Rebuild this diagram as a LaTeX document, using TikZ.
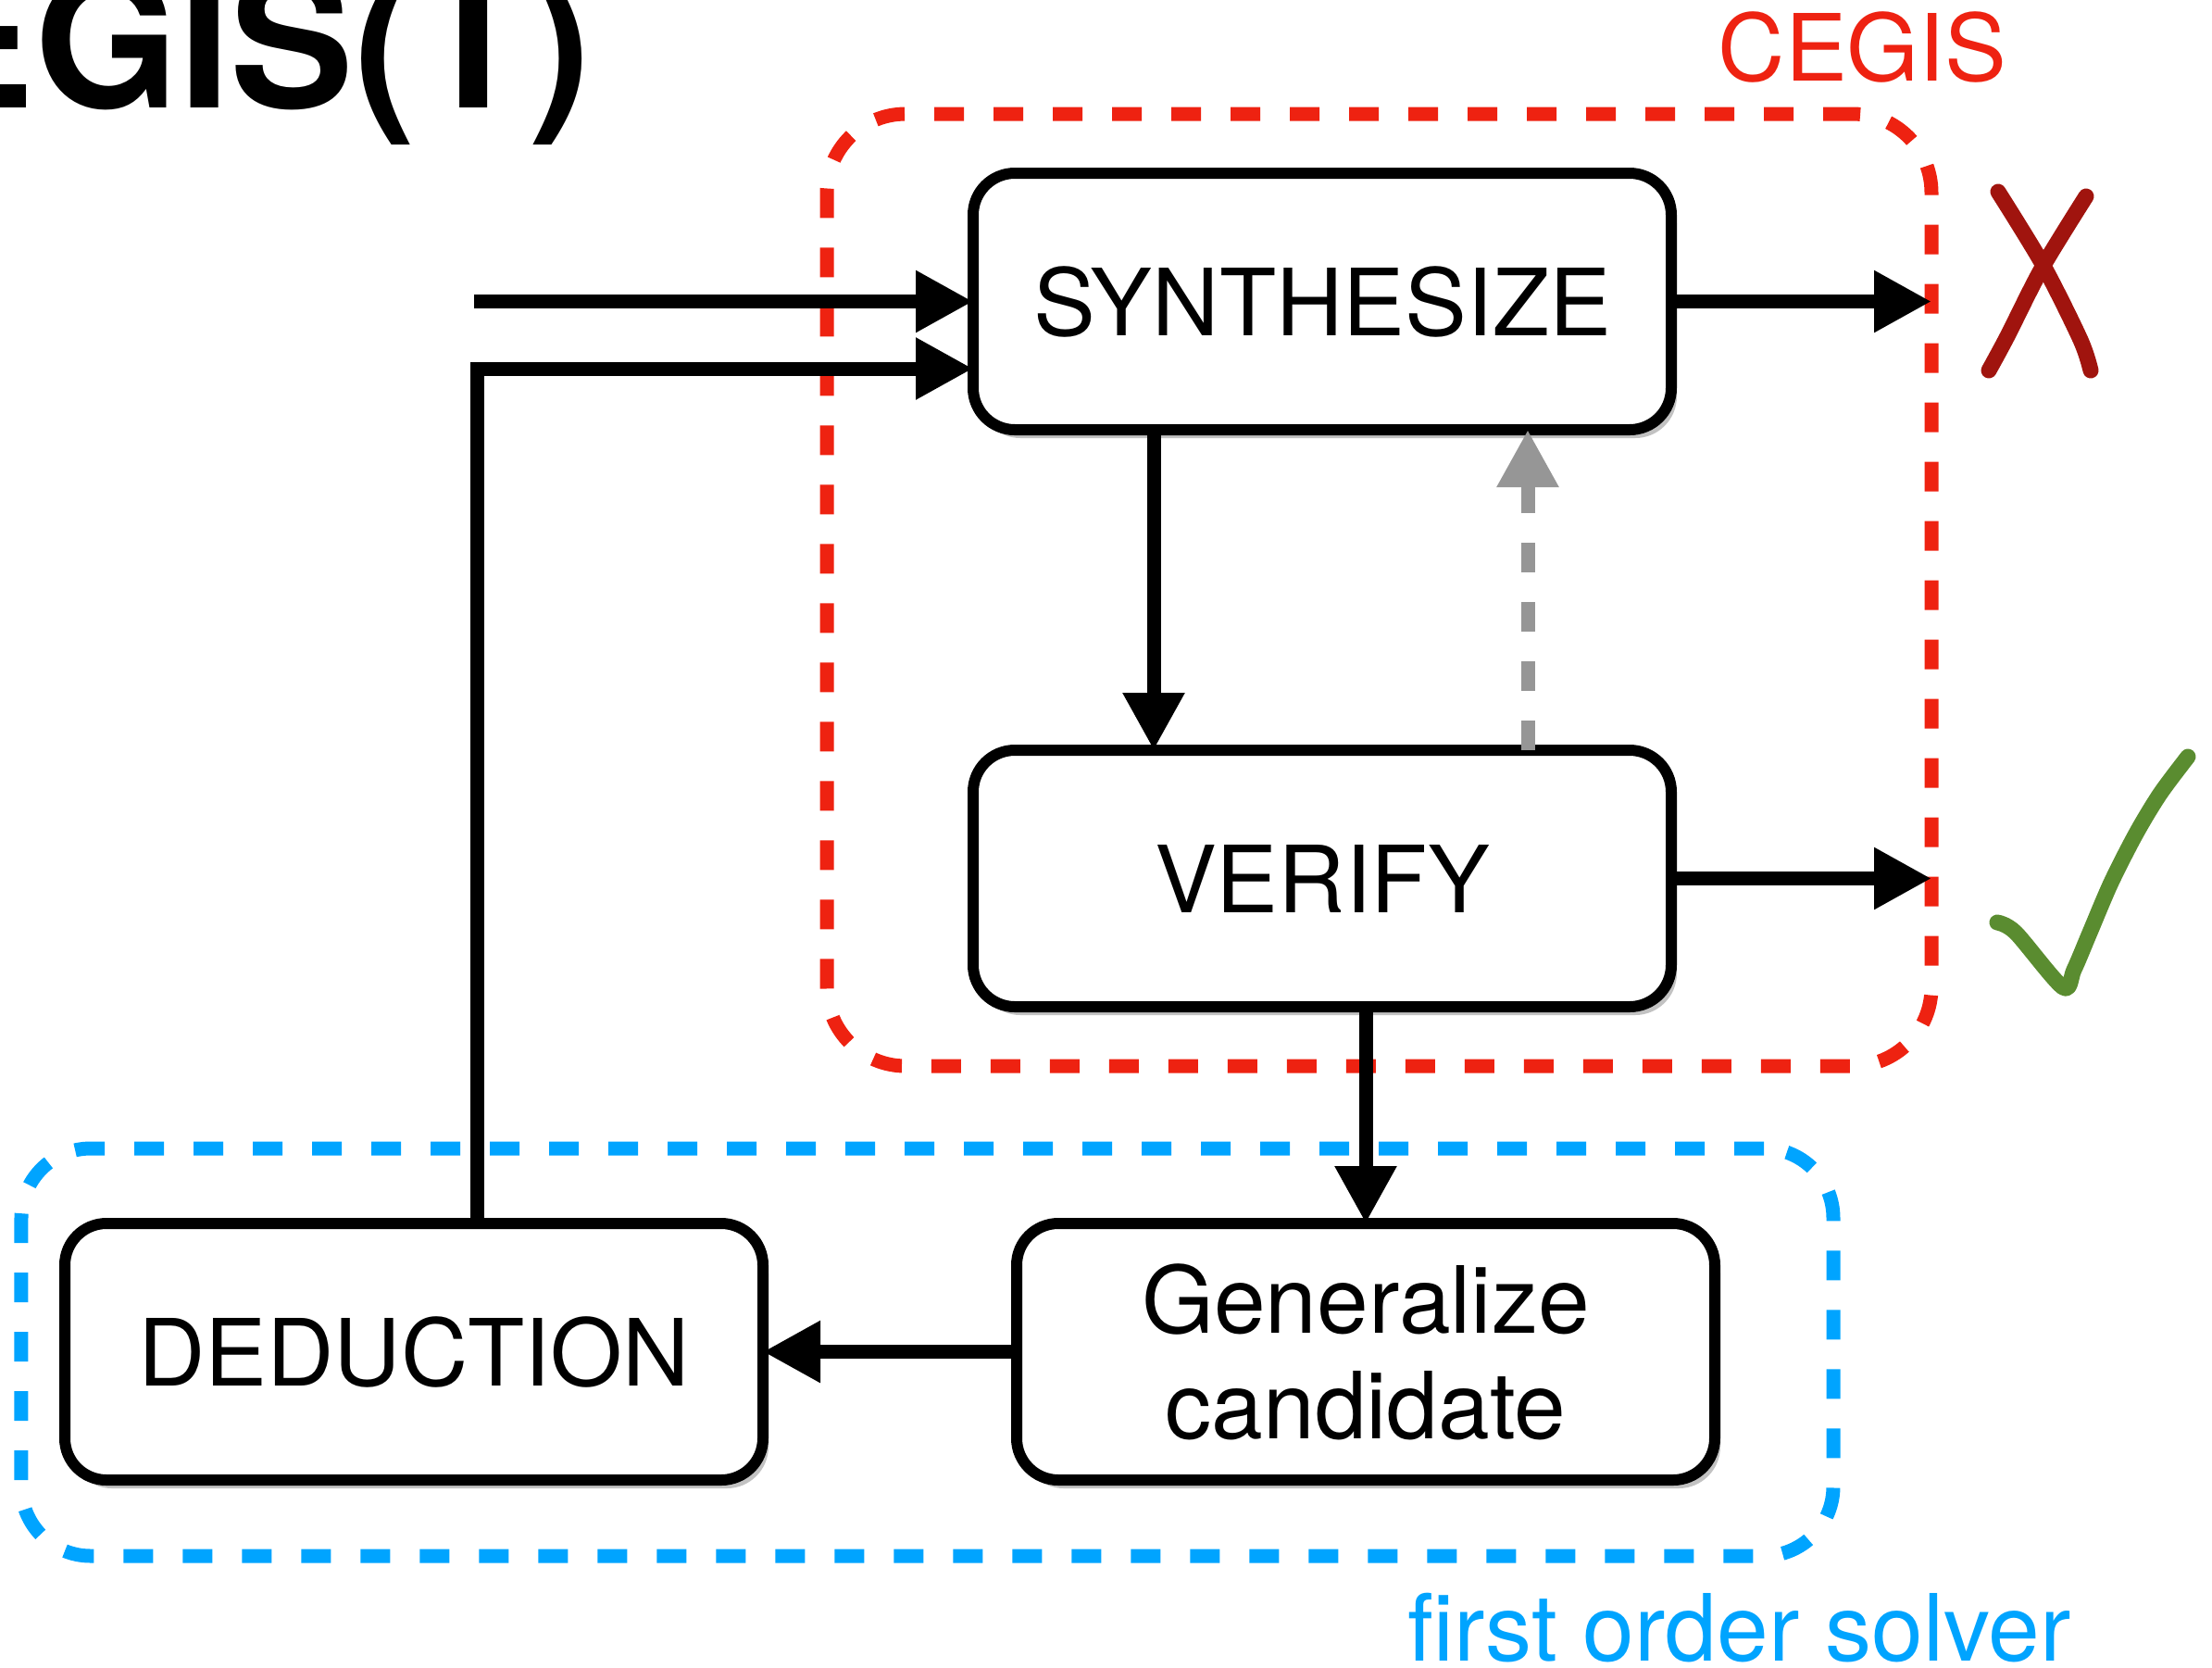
\documentclass[tikz,border=0pt]{standalone}
\usepackage{fontspec}
\setmainfont{TeX Gyre Heros}
\usetikzlibrary{positioning, arrows.meta, shadows}
\definecolor{cegisred}{RGB}{238,34,17}
\definecolor{solverblue}{RGB}{0,164,255}
\definecolor{crossred}{RGB}{160,20,14}
\definecolor{tickgreen}{RGB}{90,140,48}
\definecolor{cexgray}{RGB}{150,150,150}

\begin{document}
\begin{tikzpicture}[
  box/.style={rectangle, draw, line width=1.2mm, rounded corners=4.5mm,
              outer sep=0pt, fill=white,
              minimum width=7.54cm, minimum height=2.77cm,
              font=\fontsize{28.5}{32.4}\selectfont, align=center,
              drop shadow={shadow xshift=0.6mm, shadow yshift=-0.9mm,
                           fill=black!60, opacity=0.4}},
  zone/.style={rectangle, draw, line width=1.5mm, outer sep=0pt,
               dash pattern=on 3.2mm off 3.2mm},
  arr/.style={-{Triangle[length=6.2mm, width=6.3mm]}, line width=1.5mm},
  hand/.style={line width=1.7mm, line cap=round, line join=round},
  lbl/.style={anchor=base west, inner sep=0pt,
              font=\fontsize{28.5}{32}\selectfont}
]
  \useasboundingbox (0,0) rectangle (23.89,-18.00);
  \clip (0,0) rectangle (23.89,-18.00);

  % Title (cut off by the slide edge)
  \node[anchor=base east, inner sep=0pt, font=\fontsize{57}{60}\selectfont\bfseries]
    (title) at (6.39,-1.16) {CEGIS(T)};

  % Dashed regions
  \node[zone, draw=cegisred, rounded corners=8.5mm,
        minimum width=11.93cm, minimum height=10.28cm] (cegis) at (14.895,-6.37) {};
  \node[zone, draw=solverblue, rounded corners=7.5mm,
        minimum width=19.57cm, minimum height=4.40cm] (solver) at (10.015,-14.60) {};
  \node[lbl, text=cegisred] (cegislbl) at (18.55,-0.87) {CEGIS};
  \node[lbl, text=solverblue] (solverlbl) at (15.20,-17.93) {first order solver};

  % Blocks
  \node[box] (synth) at (14.28,-3.255) {SYNTHESIZE};
  \node[box, below=3.46cm of synth] (verify) {VERIFY};
  \node[box, below=2.34cm of verify, xshift=4.7mm] (gen) {Generalize\\candidate};
  \node[box, left=2.74cm of gen] (ded) {DEDUCTION};

  \coordinate (in) at (5.12,-3.255);
  \coordinate (fb) at (5.15,-3.98);

  % Arrows
  \draw[arr] (in) -- (synth.west);
  \draw[arr] (ded.north -| fb) -- (fb) -- (fb -| synth.west);
  \draw[arr] (synth.east) -- (synth.east -| cegis.east);
  \draw[arr] (verify.east) -- (verify.east -| cegis.east);
  \draw[arr] ([xshift=-1.82cm]synth.south) -- ([xshift=-1.82cm]verify.north);
  \draw[arr, cexgray, dash pattern=on 3.2mm off 3.2mm]
    ([xshift=2.22cm]verify.north) -- ([xshift=2.22cm]synth.south);
  \draw[arr] (verify.south -| gen.north) -- (gen.north);
  \draw[arr] (gen.west) -- (ded.east);

  % Outcome marks
  \draw[hand, crossred] plot[smooth] coordinates
    {(21.58,-2.07) (22.07,-2.87) (22.47,-3.67) (22.58,-4.00)};
  \draw[hand, crossred] plot[smooth] coordinates
    {(22.53,-2.12) (22.05,-2.90) (21.68,-3.63) (21.48,-4.00)};
  \draw[hand, tickgreen] plot[smooth, tension=0.5] coordinates
    {(21.57,-9.96) (21.77,-10.07) (22.28,-10.66) (22.40,-10.47) (22.57,-10.07)
     (22.80,-9.53) (23.07,-9.00) (23.33,-8.57) (23.63,-8.17)};
\end{tikzpicture}
\end{document}
